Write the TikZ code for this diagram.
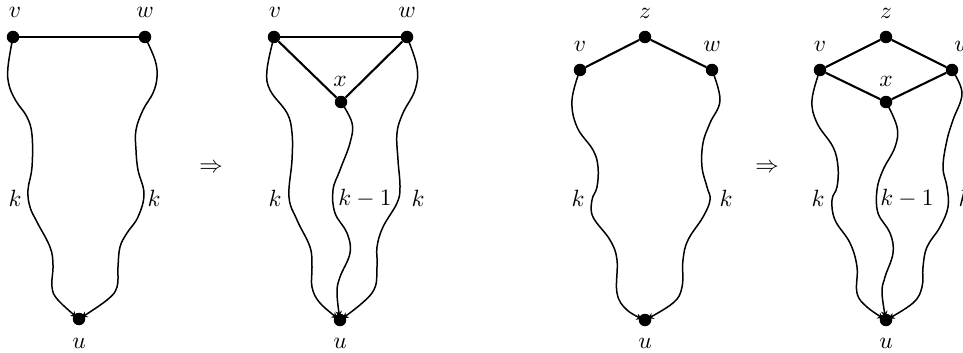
\documentclass[tikz,border=0pt]{standalone}
\usepackage{graphicx}
\usetikzlibrary{arrows.meta}
\newcommand\mylbl[1]{\scalebox{2.35}{$#1$}}
\begin{document}
\begin{tikzpicture}[x=1pt,y=-1pt,
  dot/.style={circle,fill=black,inner sep=0pt,minimum size=12.5pt},
  lab/.style={inner sep=0pt},
  edge/.style={line width=2.1pt},
  wig/.style={line width=1.5pt,-{Stealth[length=6pt,width=6.5pt]},shorten >=3pt}]
\useasboundingbox (0,0) rectangle (963,353);
\clip (0,0) rectangle (963,353);
% ---------- panel 1
\node[dot] (v1) at (13,37) {};
\node[dot] (w1) at (145,37) {};
\node[dot] (u1) at (79,319) {};
\node[lab] (lv1) at (15,12) {\mylbl{v}};
\node[lab] (lw1) at (145,12) {\mylbl{w}};
\node[lab] (lu1) at (79,343) {\mylbl{u}};
\node[lab] (k1a) at (15,198) {\mylbl{k}};
\node[lab] (k1b) at (154,198) {\mylbl{k}};
\draw[edge] (v1) -- (w1);
\draw[wig] plot[smooth,tension=0.65] coordinates {(v1) (8,67) (9,85) (16,101) (27,117) (32,135) (32,167) (28,190) (30,207) (37,222) (50,247) (53,265) (52,287) (58,300) (u1)};
\draw[wig] plot[smooth,tension=0.65] coordinates {(w1) (155,60) (157,77) (153,93) (143,110) (136,130) (136,150) (138,170) (144,194) (138,217) (127,233) (120,247) (118,267) (117,287) (107,300) (u1)};
\node[lab] (ar1) at (211,168) {\mylbl{\Rightarrow}};
% ---------- panel 2
\node[dot] (v2) at (274,37) {};
\node[dot] (w2) at (407,37) {};
\node[dot] (x2) at (341,102) {};
\node[dot] (u2) at (340,320) {};
\node[lab] (lv2) at (275,12) {\mylbl{v}};
\node[lab] (lw2) at (407,12) {\mylbl{w}};
\node[lab] (lx2) at (340,81) {\mylbl{x}};
\node[lab] (lu2) at (340,343) {\mylbl{u}};
\node[lab] (k2a) at (275,198) {\mylbl{k}};
\node[lab] (k2b) at (365,198) {\mylbl{k-1}};
\node[lab] (k2c) at (418,198) {\mylbl{k}};
\draw[edge] (v2) -- (w2);
\draw[edge] (v2) -- (x2);
\draw[edge] (w2) -- (x2);
\draw[wig] plot[smooth,tension=0.65] coordinates {(v2) (267,70) (270,90) (287,113) (292,133) (292,160) (289,197) (297,220) (310,247) (312,267) (312,287) (320,303) (u2)};
\draw[wig] plot[smooth,tension=0.65] coordinates {(x2) (352,123) (350,143) (340,170) (333,190) (335,213) (347,233) (350,253) (340,277) (337,293) (u2)};
\draw[wig] plot[smooth,tension=0.65] coordinates {(w2) (417,67) (415,90) (403,113) (397,133) (398,160) (400,187) (397,203) (383,227) (377,247) (377,267) (372,293) (u2)};
% ---------- panel 3
\node[dot] (z3) at (645,37) {};
\node[dot] (v3) at (580,70) {};
\node[dot] (w3) at (712,70) {};
\node[dot] (u3) at (645,320) {};
\node[lab] (lz3) at (645,13) {\mylbl{z}};
\node[lab] (lv3) at (580,46) {\mylbl{v}};
\node[lab] (lw3) at (712,46) {\mylbl{w}};
\node[lab] (lu3) at (645,343) {\mylbl{u}};
\node[lab] (k3a) at (578,198) {\mylbl{k}};
\node[lab] (k3b) at (726,198) {\mylbl{k}};
\draw[edge] (v3) -- (z3) -- (w3);
\draw[wig] plot[smooth,tension=0.65] coordinates {(v3) (572,100) (577,127) (593,150) (598,167) (597,187) (592,200) (593,217) (610,240) (617,260) (617,293) (627,310) (u3)};
\draw[wig] plot[smooth,tension=0.65] coordinates {(w3) (720,100) (710,123) (703,143) (702,167) (707,187) (710,200) (703,217) (688,240) (683,260) (682,287) (673,303) (u3)};
\node[lab] (ar2) at (767,168) {\mylbl{\Rightarrow}};
% ---------- panel 4
\node[dot] (z4) at (886,37) {};
\node[dot] (v4) at (820,70) {};
\node[dot] (w4) at (952,70) {};
\node[dot] (x4) at (886,102) {};
\node[dot] (u4) at (886,320) {};
\node[lab] (lz4) at (886,13) {\mylbl{z}};
\node[lab] (lv4) at (820,46) {\mylbl{v}};
\node[lab] (lw4) at (963,46) {\mylbl{w}};
\node[lab] (lx4) at (886,81) {\mylbl{x}};
\node[lab] (lu4) at (886,343) {\mylbl{u}};
\node[lab] (k4a) at (818,198) {\mylbl{k}};
\node[lab] (k4b) at (907,198) {\mylbl{k-1}};
\node[lab] (k4c) at (965,198) {\mylbl{k}};
\draw[edge] (v4) -- (z4) -- (w4) -- (x4) -- (v4);
\draw[wig] plot[smooth,tension=0.65] coordinates {(v4) (812,100) (817,123) (833,147) (838,167) (837,187) (832,200) (835,220) (850,243) (857,267) (857,293) (867,307) (u4)};
\draw[wig] plot[smooth,tension=0.65] coordinates {(x4) (897,127) (895,147) (883,170) (877,190) (878,213) (890,233) (893,253) (885,277) (882,293) (u4)};
\draw[wig] plot[smooth,tension=0.65] coordinates {(w4) (962,93) (953,120) (947,140) (943,167) (947,187) (948,207) (940,227) (927,247) (923,267) (922,287) (913,303) (u4)};
\end{tikzpicture}
\end{document}
